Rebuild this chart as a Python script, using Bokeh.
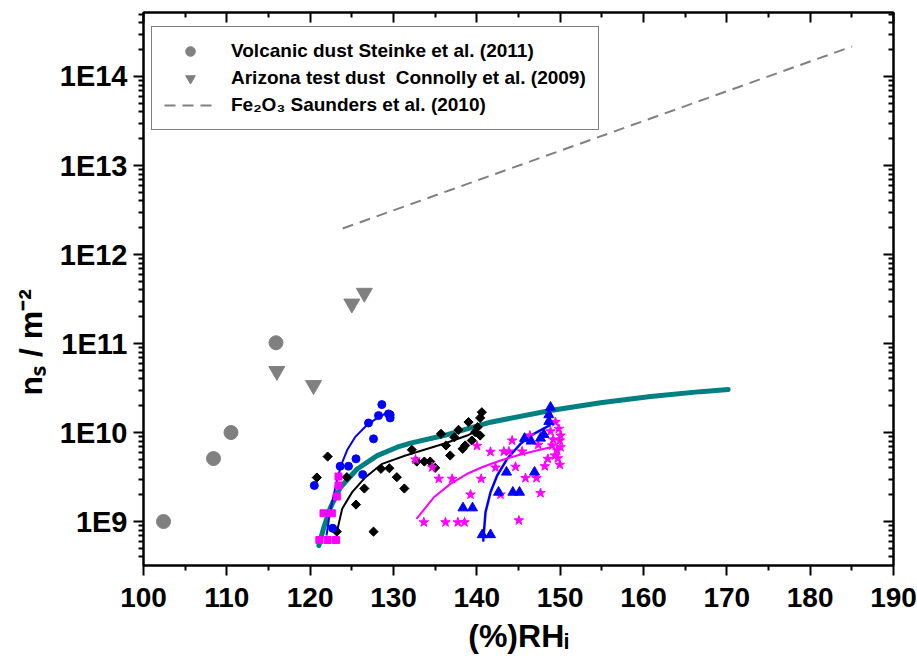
import glob
import math
import subprocess

from bokeh.plotting import figure
from bokeh.models import (FixedTicker, LinearAxis, LogAxis, Legend, LegendItem,
                          CustomJSTickFormatter, Range1d)
from bokeh.embed import file_html
from bokeh.resources import INLINE

# ---------------- data ----------------
volcanic_rh = [102.4, 108.4, 110.5, 115.9]
volcanic_ns = [1.0e9, 5.1e9, 1.0e10, 1.02e11]

atd_rh = [116.0, 120.4, 125.0, 126.5]
atd_ns = [4.9e10, 3.4e10, 2.8e11, 3.7e11]

fe2o3_rh = [123.9, 185.0]
fe2o3_ns = [1.96e12, 2.17e14]

blue_dot_rh = [120.5, 122.7, 123.6, 124.6, 125.5, 126.3, 127.6, 127.0, 128.2, 128.6, 129.4, 129.6, 129.6]
blue_dot_ns = [2.54e9, 8.4e8, 4.18e9, 4.18e9, 5.06e9, 3.37e9, 8.49e9, 1.28e10, 1.55e10, 2.06e10, 1.62e10, 1.46e10, 1.58e10]
blue_fit_rh = [121.96, 122.32, 122.68, 123.16, 123.7, 124.48, 125.44, 126.64, 127.96, 129.28]
blue_fit_ns = [6.97e8, 1.17e9, 1.72e9, 2.74e9, 4.27e9, 6.45e9, 9.0e9, 1.17e10, 1.44e10, 1.68e10]

pink_sq_rh = [121.1, 122.1, 123.1, 121.6, 122.6, 123.2, 123.4, 123.4]
pink_sq_ns = [6.2e8, 6.2e8, 6.2e8, 1.24e9, 1.24e9, 1.91e9, 2.54e9, 3.2e9]

black_rh = [120.8, 122.1, 123.2, 124.4, 125.5, 126.5, 127.6, 128.5, 129.5, 130.4, 131.3,
            132.2, 132.8, 133.7, 134.4, 135.0, 135.7, 136.3, 136.8, 137.3, 137.8, 138.3,
            138.6, 139.0, 139.4, 139.8, 140.1, 140.4, 140.4, 140.6]
black_ns = [3.12e9, 5.37e9, 7.7e8, 3.15e9, 1.55e9, 2.35e9, 7.7e8, 3.91e9, 3.97e9, 3.15e9, 2.35e9,
            6.4e9, 4.72e9, 4.72e9, 4.72e9, 4.01e9, 9.66e9, 7.15e9, 5.52e9, 8.85e9, 1.07e10, 6.56e9,
            7.15e9, 1.31e10, 8.13e9, 1.01e10, 1.15e10, 9.25e9, 1.46e10, 1.69e10]
black_fit_rh = [123.24, 123.84, 125.04, 126.64, 128.64, 131.44, 136.04, 138.84, 140.2]
black_fit_ns = [7.9e8, 1.39e9, 2.14e9, 3.15e9, 4.45e9, 5.52e9, 7.47e9, 9.25e9, 1.07e10]

blue_tri_rh = [140.65, 141.64, 138.34, 139.48, 142.6, 144.32, 145.12, 143.56, 146.92,
               145.72, 146.5, 147.64, 148.04, 148.64, 148.64, 148.84]
blue_tri_ns = [7.1e8, 7.1e8, 1.42e9, 1.42e9, 2.13e9, 2.13e9, 2.13e9, 3.58e9, 3.58e9,
               8.57e9, 8.0e9, 8.63e9, 9.5e9, 1.33e10, 1.58e10, 1.92e10]
blue_tri_fit_rh = [140.76, 141.04, 141.64, 142.44, 143.64, 145.24, 146.84, 148.84]
blue_tri_fit_ns = [5.96e8, 1.27e9, 2.13e9, 3.29e9, 5.07e9, 7.47e9, 9.66e9, 1.22e10]

star_rh = [133.64, 136.24, 137.72, 138.52, 145.04, 139.24, 142.84, 147.64, 135.44, 137.04,
           140.52, 145.84, 147.16, 142.24, 144.64, 148.16, 149.96, 132.64, 134.64, 141.64,
           143.24, 143.84, 145.44, 148.52, 149.72, 140.02, 144.24, 146.36, 147.36, 148.84,
           149.44, 149.84, 150.04, 149.96, 149.04, 150.04, 149.64, 149.36, 149.16]
star_ns = [9.8e8, 9.8e8, 9.8e8, 9.8e8, 1.03e9, 2.01e9, 2.01e9, 2.09e9, 3.02e9, 3.02e9,
           3.02e9, 3.08e9, 3.08e9, 4.04e9, 4.12e9, 4.18e9, 4.34e9, 4.98e9, 4.07e9, 6.07e9,
           6.12e9, 6.12e9, 6.12e9, 5.06e9, 5.14e9, 7.08e9, 8.13e9, 9.25e9, 7.28e9, 1.03e10,
           1.31e10, 1.1e10, 9.25e9, 8.13e9, 7.15e9, 6.84e9, 6.28e9, 5.52e9, 8.34e9]
star_fit_rh = [132.76, 134.84, 136.84, 138.84, 140.84, 142.84, 144.84, 146.84, 149.24]
star_fit_ns = [1.07e9, 1.87e9, 2.65e9, 3.44e9, 4.15e9, 4.85e9, 5.52e9, 6.17e9, 6.96e9]

teal_rh = [121.04, 121.64, 122.44, 123.64, 125.64, 128.04, 130.44, 132.04, 136.04, 141.64,
           148.84, 154.84, 160.84, 166.84, 170.16]
teal_ns = [5.37e8, 8.63e8, 1.445e9, 2.43e9, 3.89e9, 5.5e9, 6.84e9, 7.59e9, 9.25e9, 1.306e10,
           1.766e10, 2.16e10, 2.535e10, 2.88e10, 3.04e10]

x_ticks = [100, 110, 120, 130, 140, 150, 160, 170, 180, 190]
x_minor = [105, 115, 125, 135, 145, 155, 165, 175, 185]
y_ticks = [1e9, 1e10, 1e11, 1e12, 1e13, 1e14]
y_minor = [k * 10.0 ** e for e in range(8, 15) for k in range(2, 10)]

legend_labels = ["Volcanic dust Steinke et al. (2011)",
                 "Arizona test dust  Connolly et al. (2009)",
                 "Fe\u2082O\u2083 Saunders et al. (2010)"]
x_title = "(%)RH\u1d62"
# trailing no-break spaces push the rotated title down to where the reference has it
y_title = "n\u209b / m\u207b\u00b2" + "\u00a0" * 12

# ---------------- fonts ----------------
FONT = "Liberation Sans"
narrow = False
try:
    out = subprocess.run(["fc-list"], capture_output=True, text=True).stdout
    narrow = "Liberation Sans Narrow" in out
except Exception:
    narrow = bool(glob.glob("/usr/share/fonts/**/LiberationSansNarrow-Bold*", recursive=True))
if narrow:
    XTICK_FONT, XTICK_SIZE = "Liberation Sans Narrow", "33px"
else:
    XTICK_FONT, XTICK_SIZE = FONT, "28px"

GRAY = "#808080"
BLUE = "#0000FF"
PINK = "#FF00FF"
TEAL = "#008080"

# ---------------- figure ----------------
p = figure(width=917, height=664, output_backend="svg", toolbar_location=None,
           y_axis_type="log",
           x_range=Range1d(100, 190), y_range=Range1d(10 ** 8.506, 10 ** 14.719),
           min_border_left=143, min_border_right=24, min_border_top=12, min_border_bottom=99)
p.grid.visible = False
p.outline_line_color = "black"
p.outline_line_width = 2
p.background_fill_color = "white"
p.border_fill_color = "white"

xt = FixedTicker(ticks=x_ticks, minor_ticks=x_minor)
yt = FixedTicker(ticks=y_ticks, minor_ticks=y_minor)
yfmt = CustomJSTickFormatter(code="return '1E' + Math.round(Math.log10(tick));")
blank = CustomJSTickFormatter(code="return '';")

xa = p.xaxis[0]
xa.ticker = xt
xa.axis_line_width = 2
xa.major_tick_line_width = 2
xa.minor_tick_line_width = 2
xa.major_tick_out = 10
xa.major_tick_in = 0
xa.minor_tick_out = 5
xa.minor_tick_in = 0
xa.major_label_text_font = XTICK_FONT
xa.major_label_text_font_size = XTICK_SIZE
xa.major_label_text_font_style = "bold"
xa.major_label_text_color = "black"
xa.major_label_standoff = 12
xa.axis_label = x_title
xa.axis_label_standoff = 8
xa.axis_label_text_font = FONT
xa.axis_label_text_font_size = "32px"
xa.axis_label_text_font_style = "bold"
xa.axis_label_text_color = "black"

ya = p.yaxis[0]
ya.ticker = yt
ya.formatter = yfmt
ya.axis_line_width = 2
ya.major_tick_line_width = 2
ya.minor_tick_line_width = 2
ya.major_tick_out = 10
ya.major_tick_in = 0
ya.minor_tick_out = 5
ya.minor_tick_in = 0
ya.major_label_text_font = FONT
ya.major_label_text_font_size = "29px"
ya.major_label_text_font_style = "bold"
ya.major_label_text_color = "black"
ya.major_label_standoff = 6
ya.axis_label = y_title
ya.axis_label_standoff = 8
ya.axis_label_text_font = FONT
ya.axis_label_text_font_size = "32px"
ya.axis_label_text_font_style = "bold"
ya.axis_label_text_color = "black"

top = LinearAxis(ticker=FixedTicker(ticks=x_ticks, minor_ticks=x_minor), formatter=blank,
                 axis_line_width=2, major_tick_line_width=2, minor_tick_line_width=2,
                 major_tick_in=10, major_tick_out=0, minor_tick_in=5, minor_tick_out=0,
                 major_label_standoff=0)
p.add_layout(top, "above")
right = LogAxis(ticker=FixedTicker(ticks=y_ticks, minor_ticks=y_minor), formatter=blank,
                axis_line_width=2, major_tick_line_width=2, minor_tick_line_width=2,
                major_tick_in=10, major_tick_out=0, minor_tick_in=5, minor_tick_out=0,
                major_label_standoff=0)
p.add_layout(right, "right")

# ---------------- glyphs ----------------
r_fe = p.line(fe2o3_rh, fe2o3_ns, line_color=GRAY, line_width=2, line_dash="11 7")

p.line(teal_rh, teal_ns, line_color=TEAL, line_width=5, line_cap="round", line_join="round")
p.line(blue_fit_rh, blue_fit_ns, line_color=BLUE, line_width=2)
p.line(black_fit_rh, black_fit_ns, line_color="black", line_width=2)
p.line(blue_tri_fit_rh, blue_tri_fit_ns, line_color=BLUE, line_width=2.5)
p.line(star_fit_rh, star_fit_ns, line_color=PINK, line_width=2)

p.scatter(black_rh, black_ns, marker="square", angle=math.pi / 4, size=6.5,
          fill_color="black", line_color="black")
p.scatter(blue_dot_rh, blue_dot_ns, marker="circle", size=8, fill_color=BLUE, line_color=BLUE)
p.scatter(pink_sq_rh, pink_sq_ns, marker="square", size=7, fill_color=PINK, line_color=PINK)
p.scatter(star_rh, star_ns, marker="star", size=10, fill_color=PINK, line_color=PINK)
p.scatter(blue_tri_rh, blue_tri_ns, marker="triangle", size=10, fill_color=BLUE, line_color=BLUE)

r_vol = p.scatter(volcanic_rh, volcanic_ns, marker="circle", size=14,
                  fill_color=GRAY, line_color=GRAY)
r_atd = p.scatter(atd_rh, atd_ns, marker="inverted_triangle", size=16,
                  fill_color=GRAY, line_color=GRAY)

# ---------------- legend ----------------
legend = Legend(items=[LegendItem(label=legend_labels[0], renderers=[r_vol]),
                       LegendItem(label=legend_labels[1], renderers=[r_atd]),
                       LegendItem(label=legend_labels[2], renderers=[r_fe])],
                location=(8, 435), orientation="vertical",
                border_line_color="black", border_line_width=1,
                background_fill_color="white", background_fill_alpha=1,
                padding=12, spacing=3, margin=0,
                glyph_width=52, glyph_height=24, label_height=24, label_standoff=15,
                label_text_font=FONT, label_text_font_size="19px",
                label_text_font_style="bold", label_text_color="black")
p.add_layout(legend, "center")

open("out.html", "w").write(file_html(p, INLINE))
